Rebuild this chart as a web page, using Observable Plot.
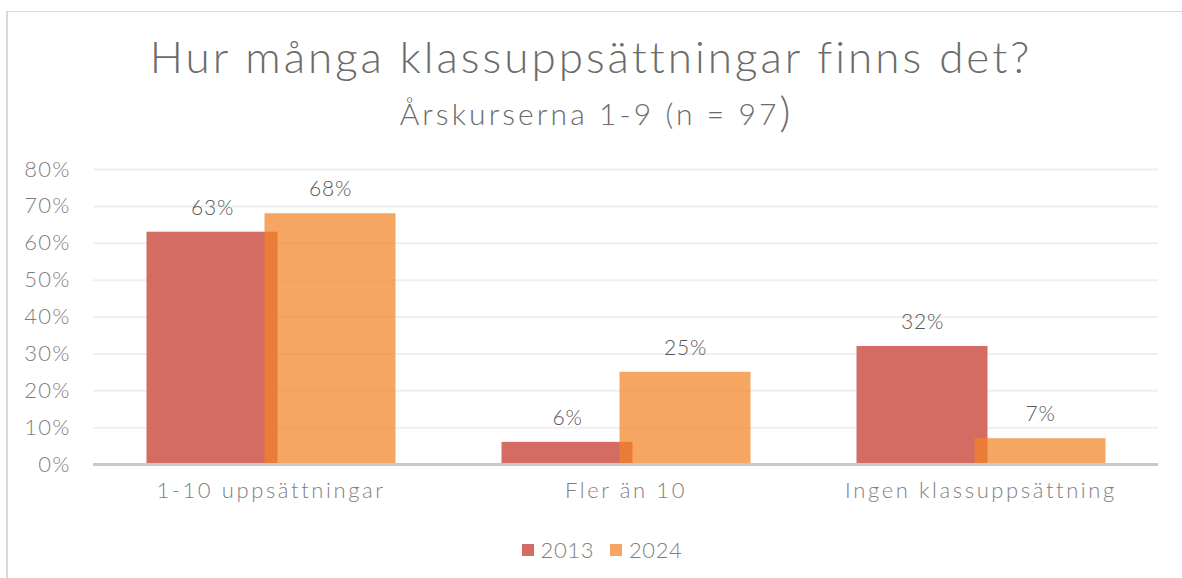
<!DOCTYPE html>
<html><head><meta charset="utf-8">
<script src="https://cdn.jsdelivr.net/npm/d3@7"></script>
<script src="https://cdn.jsdelivr.net/npm/@observablehq/plot@0.6"></script>
<style>
html,body{margin:0;padding:0;background:#fff;}
body{width:1182px;height:578px;position:relative;overflow:hidden;font-family:Lato,"Open Sans",sans-serif;}
#frame{position:absolute;left:6px;top:11px;right:0;bottom:0;border-top:1.5px solid #d9d9d9;border-left:2px solid #d9d9d9;}
#title{position:absolute;top:30px;left:0;width:1182px;text-align:center;font-size:44px;color:#6b6b6b;font-weight:300;letter-spacing:3px;white-space:nowrap;}
#subtitle{position:absolute;top:84px;left:4px;width:1182px;text-align:center;font-size:30px;color:#6b6b6b;font-weight:300;letter-spacing:3.1px;white-space:nowrap;}
#subtitle .big{font-size:42px;position:relative;top:2px;letter-spacing:0;}
#chart{position:absolute;left:0;top:150px;}
#chart svg [aria-label="fx-axis tick label"] text{letter-spacing:2.6px;}
#chart svg [aria-label="y-axis tick label"] text{letter-spacing:1.2px;}
#chart svg [aria-label="text"] text{letter-spacing:0.8px;}
#legend{position:absolute;top:536px;left:11px;width:1182px;display:flex;justify-content:center;gap:16px;font-size:22px;color:#7f7f7f;font-weight:300;letter-spacing:0.6px;}
#legend .item{display:flex;align-items:center;gap:7px;}
#legend .sw{width:12px;height:12px;display:inline-block;}
</style>
</head><body>
<div id="frame"></div>
<div id="title">Hur många klassuppsättningar finns det?</div>
<div id="subtitle">Årskurserna 1-9 (n = 97<span class="big">)</span></div>
<div id="chart"></div>
<div id="legend"></div>
<script>
const categories = ["1-10 uppsättningar", "Fler än 10", "Ingen klassuppsättning"];
const years = ["2013", "2024"];
const values2013 = [0.63, 0.06, 0.32];
const values2024 = [0.68, 0.25, 0.07];
const yTicks = [0, 0.1, 0.2, 0.3, 0.4, 0.5, 0.6, 0.7, 0.8];
const colors = ["#D46C64", "#F18326"];
const legendColors = ["#D46C64", "#F5A663"];

const rows2013 = categories.map((c, i) => ({cat: c, year: years[0], value: values2013[i]}));
const rows2024 = categories.map((c, i) => ({cat: c, year: years[1], value: values2024[i]}));
const allRows = rows2013.concat(rows2024);
const pct = v => Math.round(v * 100) + "%";

const chart = Plot.plot({
  width: 1182,
  height: 360,
  marginLeft: 93,
  marginRight: 24,
  marginTop: 19,
  marginBottom: 46,
  style: {fontFamily: "Lato, 'Open Sans', sans-serif", background: "transparent"},
  fx: {domain: categories, padding: 0, label: null},
  x: {domain: years, paddingInner: 0, paddingOuter: 0.5, axis: null},
  y: {domain: [0, 0.8], axis: null},
  marks: [
    Plot.gridY(yTicks, {stroke: "#efefef", strokeOpacity: 1, strokeWidth: 2}),
    Plot.barY(rows2013, {fx: "cat", x: "year", y: "value", fill: colors[0], insetLeft: -6.5, insetRight: -6.5}),
    Plot.barY(rows2024, {fx: "cat", x: "year", y: "value", fill: colors[1], fillOpacity: 0.72, insetLeft: -6.5, insetRight: -6.5}),
    Plot.ruleY([0], {stroke: "#c8c8c8", strokeWidth: 3}),
    Plot.text(allRows, {fx: "cat", x: "year", y: "value", text: d => pct(d.value), dy: -24, fontSize: 21, fill: "#595959", fontWeight: 300}),
    Plot.axisY({ticks: yTicks, tickFormat: pct, tickSize: 0, tickPadding: 23, fontSize: 22, fill: "#7f7f7f", fontWeight: 300, label: null}),
    Plot.axisFx({anchor: "bottom", tickSize: 0, tickPadding: 18, fontSize: 22, fill: "#7f7f7f", fontWeight: 300, label: null})
  ]
});
document.getElementById("chart").appendChild(chart);

const legend = document.getElementById("legend");
years.forEach((y, i) => {
  const item = document.createElement("div");
  item.className = "item";
  const sw = document.createElement("span");
  sw.className = "sw";
  sw.style.background = legendColors[i];
  const t = document.createElement("span");
  t.textContent = y;
  item.appendChild(sw);
  item.appendChild(t);
  legend.appendChild(item);
});
</script>
</body></html>
